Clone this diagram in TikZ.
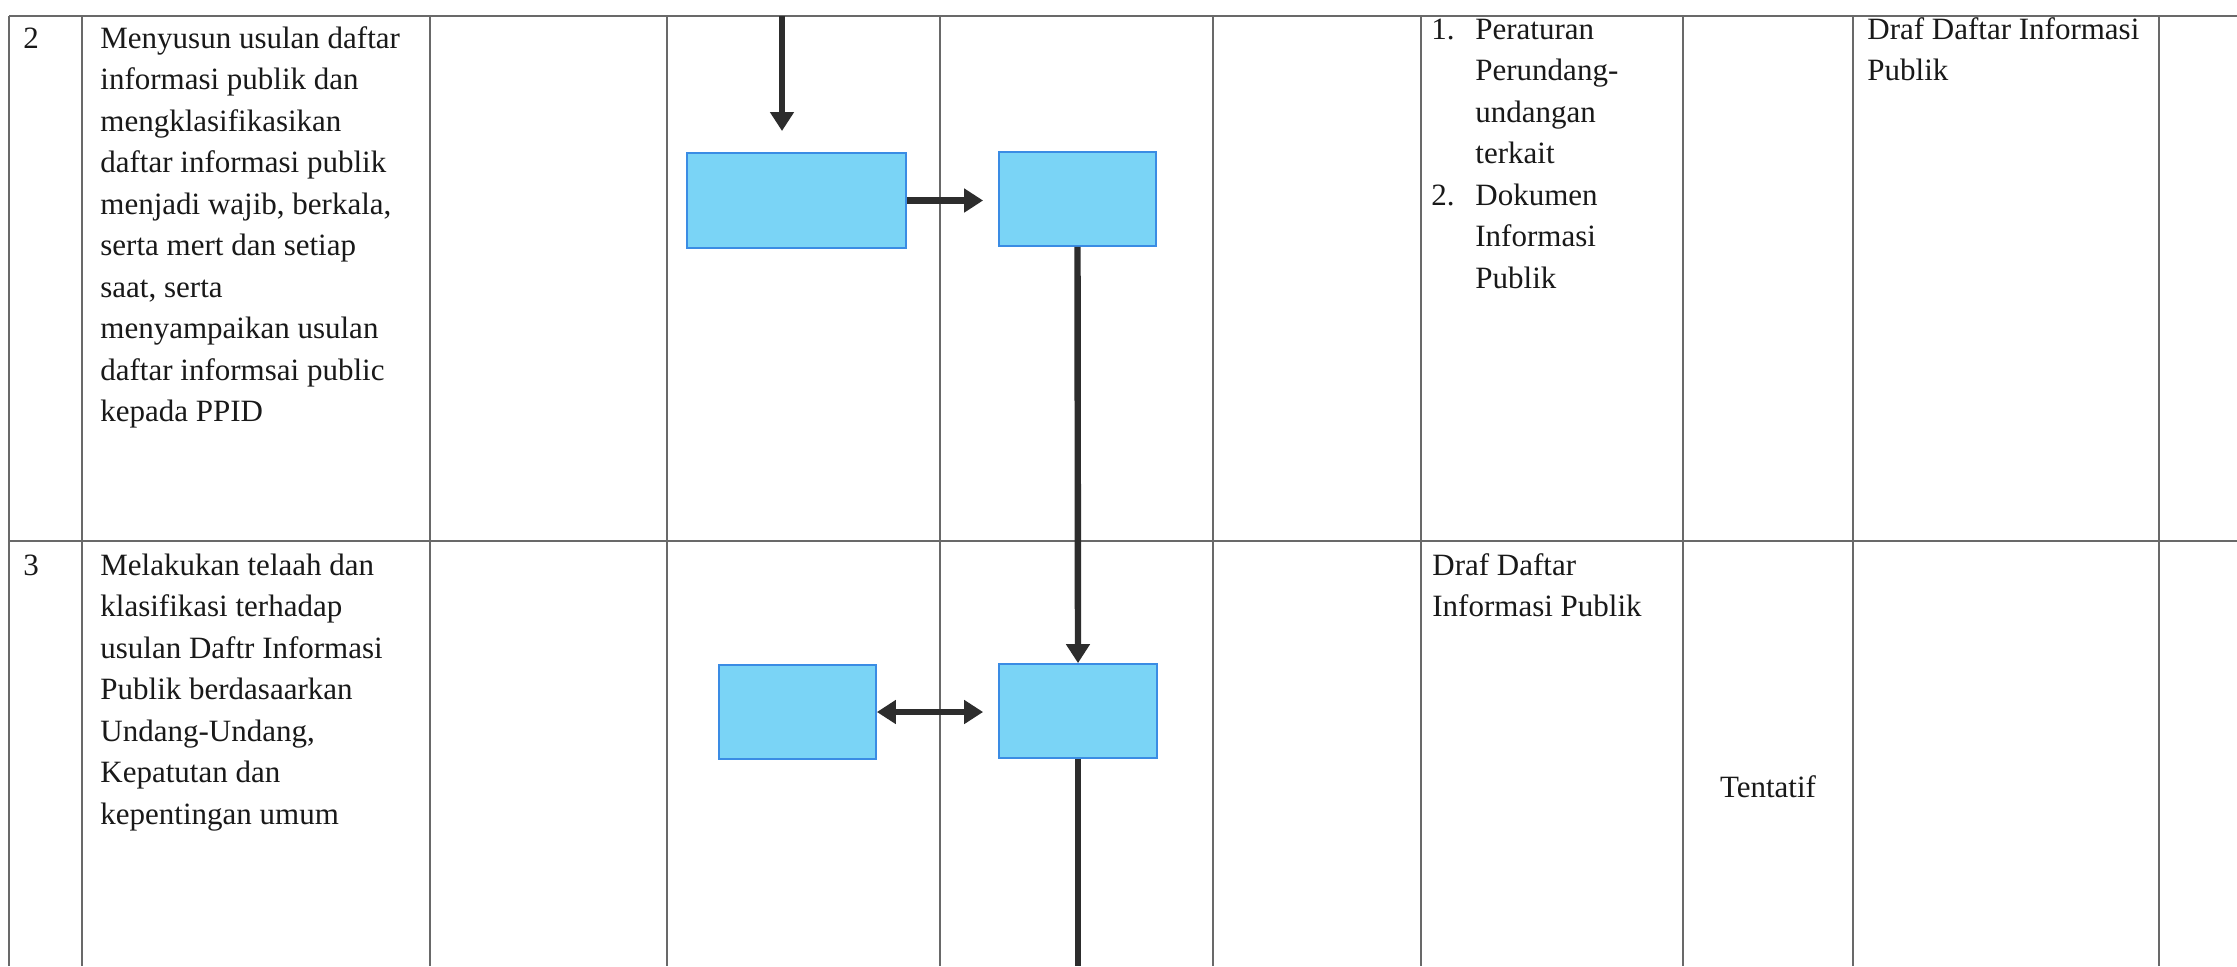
\documentclass[tikz,border=0pt]{standalone}
\usepackage{fontspec}
\setmainfont{Liberation Serif}
\usetikzlibrary{arrows.meta}
\definecolor{boxfill}{RGB}{122,212,246}
\definecolor{boxline}{RGB}{58,140,228}
\definecolor{ink}{RGB}{45,45,45}
\definecolor{txt}{RGB}{25,25,25}
\definecolor{rulec}{RGB}{105,105,105}
\begin{document}
\begin{tikzpicture}[x=0.5pt,y=-0.5pt,
  grid/.style={draw=rulec, line width=0.8pt},
  flowbox/.style={draw=boxline, fill=boxfill, line width=0.9pt, inner sep=0pt},
  flow/.style={draw=ink, line width=3.2pt, -{Triangle[width=11.5pt,length=9.5pt]}},
  flowline/.style={draw=ink, line width=3.2pt},
  cell/.style={anchor=base west, inner sep=0pt, text=txt, font=\fontsize{15.5pt}{20.75pt}\selectfont}
]
\useasboundingbox[fill=white] (0,0) rectangle (2237,966);

% table grid
\draw[grid] (9,16) -- (2237,16);
\draw[grid] (9,541) -- (2237,541);
\foreach \cx in {9,82,430,667,940,1213,1421,1683,1853,2159}
  \draw[grid] (\cx,16) -- (\cx,966);

% row 2 texts
\node[cell] (n2) at (23,48) {2};
\node[cell] (t2) at (100,48) {\begin{tabular}[t]{@{}l@{}}
Menyusun usulan daftar\\
informasi publik dan\\
mengklasifikasikan\\
daftar informasi publik\\
menjadi wajib, berkala,\\
serta mert dan setiap\\
saat, serta\\
menyampaikan usulan\\
daftar informsai public\\
kepada PPID\end{tabular}};
\node[cell] (in2) at (1431,39) {\begin{tabular}[t]{@{}p{22pt}@{}l@{}}
1. & Peraturan\\
 & Perundang-\\
 & undangan\\
 & terkait\\
2. & Dokumen\\
 & Informasi\\
 & Publik\end{tabular}};
\node[cell] (out2) at (1867,39) {\begin{tabular}[t]{@{}l@{}}
Draf Daftar Informasi\\
Publik\end{tabular}};

% row 3 texts
\node[cell] (n3) at (23,575) {3};
\node[cell] (t3) at (100,575) {\begin{tabular}[t]{@{}l@{}}
Melakukan telaah dan\\
klasifikasi terhadap\\
usulan Daftr Informasi\\
Publik berdasaarkan\\
Undang-Undang,\\
Kepatutan dan\\
kepentingan umum\end{tabular}};
\node[cell] (in3) at (1432,575) {\begin{tabular}[t]{@{}l@{}}
Draf Daftar\\
Informasi Publik\end{tabular}};
\node[cell, anchor=base] (tm3) at (1768,797) {Tentatif};

% flow boxes
\node[flowbox, minimum width=109.5pt, minimum height=47.5pt] (b1) at (796.5,200.5) {};
\node[flowbox, minimum width=78.5pt, minimum height=47pt] (b2) at (1077.5,199) {};
\node[flowbox, minimum width=78.5pt, minimum height=47pt] (b3) at (797.5,712) {};
\node[flowbox, minimum width=79pt, minimum height=47pt] (b4) at (1078,711) {};

% connectors
\coordinate (inA) at (782,16);
\coordinate (inB) at (782,131);
\coordinate (outA) at (1078,966);
\draw[flow] (inA) -- (inB);
\draw[flow, shorten >=7.5pt] (b1.east) -- (b1.east -| b2.west);
\draw[flow] (b2.south) -- (b4.north);
\draw[flow, {Triangle[width=11.5pt,length=9.5pt]}-{Triangle[width=11.5pt,length=9.5pt]}, shorten >=7.5pt] (b3.east) -- (b3.east -| b4.west);
\draw[flowline] (b4.south) -- (outA);
\end{tikzpicture}
\end{document}
